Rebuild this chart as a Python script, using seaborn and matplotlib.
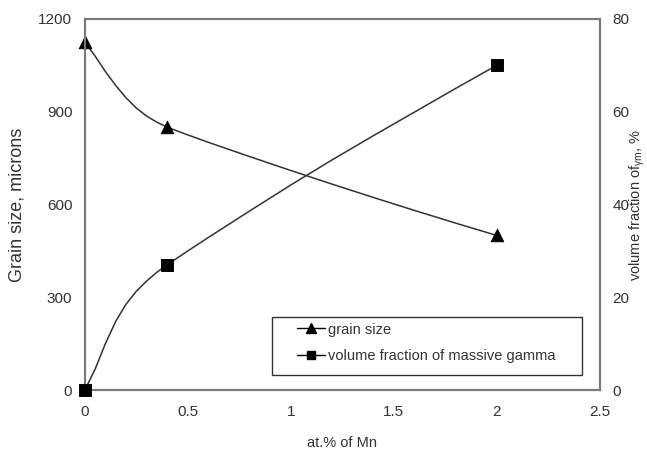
import numpy as np
import pandas as pd
import matplotlib
matplotlib.use('Agg')
import matplotlib.pyplot as plt
from matplotlib.lines import Line2D
from matplotlib.patches import Rectangle
import seaborn as sns

sns.set_style('white')
plt.rcParams['font.family'] = ['Liberation Sans', 'DejaVu Sans']
plt.rcParams['mathtext.fontset'] = 'custom'
plt.rcParams['mathtext.rm'] = 'Liberation Sans'
plt.rcParams['mathtext.it'] = 'Liberation Sans'

# measured points (markers)
mn = [0, 0.4, 2]
grain = [1125, 850, 500]
vol_frac = [0, 27, 70]

# smoothed curves
curve_x = [0, 0.05, 0.1, 0.15, 0.2, 0.25, 0.3, 0.35, 0.4, 0.5, 0.6, 0.8,
           1.0, 1.2, 1.4, 1.6, 1.8, 2.0]
grain_curve = [1125, 1080, 1030, 985, 945, 912, 886, 866, 850, 825, 801, 755,
               710, 666, 623, 581, 540, 500]
vol_curve = [0, 4.5, 10, 14.8, 18.5, 21.3, 23.5, 25.4, 27, 30, 32.9, 38.6,
             44.2, 49.6, 54.8, 59.9, 65, 70]

fig, ax = plt.subplots(figsize=(6.47, 4.49), dpi=100)
fig.subplots_adjust(left=0.131, right=0.927, top=0.958, bottom=0.131)
ax2 = ax.twinx()

line_kw = dict(color='#333333', linewidth=1.1, sort=False, estimator=None)
sns.lineplot(x=curve_x, y=grain_curve, ax=ax, **line_kw)
sns.scatterplot(x=mn, y=grain, ax=ax, marker='^', s=80, color='black',
                edgecolor='black', zorder=5, clip_on=False)
sns.lineplot(x=curve_x, y=vol_curve, ax=ax2, **line_kw)
sns.scatterplot(x=mn, y=vol_frac, ax=ax2, marker='s', s=70, color='black',
                edgecolor='black', zorder=5, clip_on=False)

ax.set_xlim(0, 2.5)
ax.set_ylim(0, 1200)
ax2.set_ylim(0, 80)
ax.set_xticks([0, 0.5, 1, 1.5, 2, 2.5])
ax.set_xticklabels(['0', '0.5', '1', '1.5', '2', '2.5'])
ax.set_yticks([0, 300, 600, 900, 1200])
ax2.set_yticks([0, 20, 40, 60, 80])

for a in (ax, ax2):
    a.tick_params(length=0, labelsize=11, colors='#333333', pad=9)
    for s in a.spines.values():
        s.set_color('#7a7a7a')
        s.set_linewidth(1.5)
ax.tick_params(axis='x', pad=11)

ax.set_xlabel('at.% of Mn', fontsize=10.5, color='#333333', labelpad=12)
ax.set_ylabel('Grain size, microns', fontsize=13, color='#333333', labelpad=9)
ax2.set_ylabel(r'volume fraction of$_{\mathrm{\gamma m}}$, %', fontsize=10.5,
               color='#333333', labelpad=-1)

# legend box drawn separately to match the wide frame
ax2.add_patch(Rectangle((0.363, 0.040), 0.602, 0.156, transform=ax2.transAxes,
                        facecolor='white', edgecolor='#333333', linewidth=1.0,
                        zorder=6))
handles = [
    Line2D([], [], color='black', linewidth=1, marker='^', markersize=7),
    Line2D([], [], color='black', linewidth=1, marker='s', markersize=6),
]
labels = ['grain size', 'volume fraction of massive gamma']
leg = ax2.legend(handles, labels, loc='upper left',
                 bbox_to_anchor=(0.412, 0.182), frameon=False,
                 fontsize=10.5, handlelength=1.9, handletextpad=0.2,
                 borderpad=0, labelspacing=0.85, borderaxespad=0)
leg.set_zorder(7)
for t in leg.get_texts():
    t.set_color('#333333')

fig.savefig('out.png', dpi=100)
